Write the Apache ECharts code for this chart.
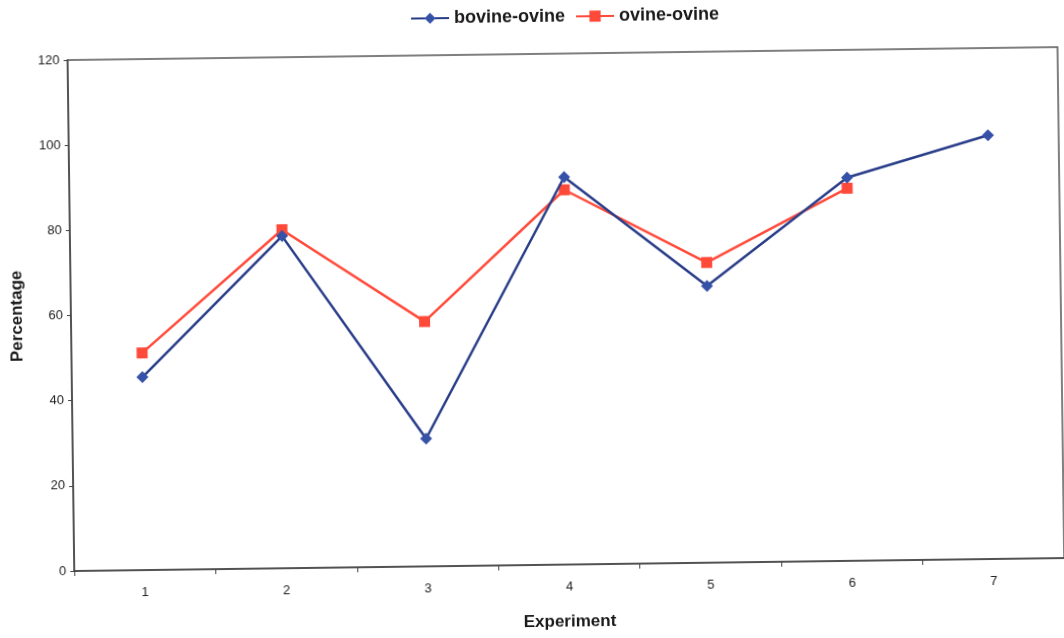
<!DOCTYPE html>
<html>
<head>
<meta charset="utf-8">
<script src="https://cdn.jsdelivr.net/npm/echarts@6/dist/echarts.min.js"></script>
<style>
html,body{margin:0;padding:0;background:#fff;overflow:hidden;}
#chart{width:1064px;height:638px;transform:rotate(-0.75deg);transform-origin:50% 50%;}
</style>
</head>
<body>
<div id="chart"></div>
<script>
var categories = ['1','2','3','4','5','6','7'];
var bovineOvine = [45.3, 78, 30, 91, 65, 90, 99.5];
var ovineOvine = [51, 79.5, 57.5, 88, 70.5, 87.5, null];
var yTicks = [0, 20, 40, 60, 80, 100, 120];

var chart = echarts.init(document.getElementById('chart'));
chart.setOption({
  backgroundColor: '#fff',
  animation: false,
  legend: {
    top: 3,
    left: 409,
    itemGap: 10,
    itemWidth: 38,
    itemHeight: 14,
    textStyle: {fontFamily: 'Liberation Sans', fontWeight: 'bold', fontSize: 18, color: '#1a1a1a'},
    data: ['bovine-ovine', 'ovine-ovine']
  },
  grid: {
    left: 71, top: 54, width: 990, height: 511,
    show: true, borderColor: '#555', borderWidth: 1.5, backgroundColor: 'transparent'
  },
  xAxis: {
    type: 'category',
    data: categories,
    boundaryGap: true,
    name: 'Experiment',
    nameLocation: 'middle',
    nameGap: 49,
    nameTextStyle: {fontFamily: 'Liberation Sans', fontWeight: 'bold', fontSize: 17, color: '#1a1a1a'},
    axisLine: {lineStyle: {color: '#444', width: 1.5}},
    axisTick: {show: true, alignWithLabel: false, length: 5, lineStyle: {color: '#444'}},
    axisLabel: {margin: 16, fontFamily: 'Liberation Sans', fontSize: 13, color: '#222'},
    splitLine: {show: false}
  },
  yAxis: {
    type: 'value',
    min: 0, max: 120, interval: 20,
    name: 'Percentage',
    nameLocation: 'middle',
    nameGap: 45,
    nameTextStyle: {fontFamily: 'Liberation Sans', fontWeight: 'bold', fontSize: 17, color: '#1a1a1a'},
    axisLine: {show: true, lineStyle: {color: '#444', width: 1.5}},
    axisTick: {show: true, length: 4, lineStyle: {color: '#444'}},
    axisLabel: {margin: 8, fontFamily: 'Liberation Sans', fontSize: 13, color: '#222',
      formatter: function (v) { return yTicks.indexOf(v) >= 0 ? String(v) : ''; }},
    splitLine: {show: false}
  },
  series: [
    {
      name: 'bovine-ovine',
      type: 'line',
      data: bovineOvine,
      symbol: 'diamond',
      symbolSize: 12,
      lineStyle: {color: '#283c88', width: 2.5},
      itemStyle: {color: '#3552a8'},
      z: 3
    },
    {
      name: 'ovine-ovine',
      type: 'line',
      data: ovineOvine,
      symbol: 'rect',
      symbolSize: 11,
      lineStyle: {color: '#ff4a3a', width: 2.5},
      itemStyle: {color: '#ff4a3a'},
      z: 2
    }
  ]
});
</script>
</body>
</html>
